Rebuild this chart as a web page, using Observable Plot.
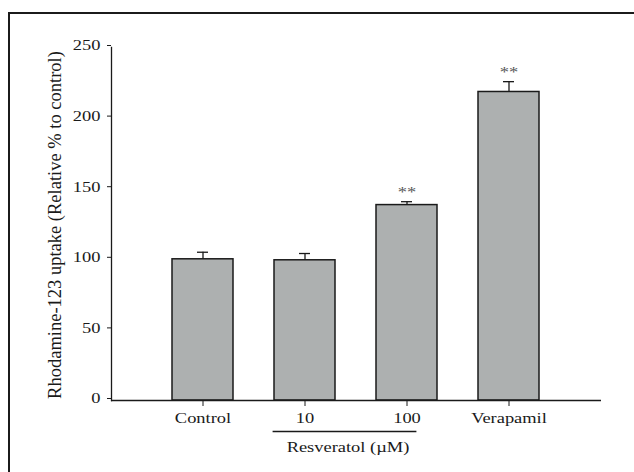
<!DOCTYPE html>
<html><head><meta charset="utf-8">
<script src="https://cdn.jsdelivr.net/npm/d3@7"></script>
<script src="https://cdn.jsdelivr.net/npm/@observablehq/plot@0.6"></script>
<style>
body{margin:0;background:#fff;}
#wrap{position:relative;width:634px;height:472px;overflow:hidden;}
#frame{position:absolute;left:8px;top:12px;width:640px;height:480px;border:2px solid #1b1b1b;box-sizing:border-box;}
#chart{position:absolute;left:0;top:0;}
</style></head><body>
<div id="wrap"><div id="frame"></div><div id="chart"></div></div>
<script>
const groups = ["Control", "10", "100", "Verapamil"];
const means = [100, 99.3, 138.4, 218.5];
const errors = [5.0, 4.8, 2.4, 7.3];
const stars = ["", "", "**", "**"];
const yTicks = [0, 50, 100, 150, 200, 250];
const yLabel = "Rhodamine-123 uptake (Relative % to control)";
const groupLabel = "Resveratol (µM)";
const groupMembers = ["10", "100"];

const data = groups.map((g, i) => ({g, v: means[i], top: means[i] + errors[i], s: stars[i]}));
const ink = "#1a1a1a";

const plot = Plot.plot({
  width: 634, height: 472,
  marginLeft: 111, marginRight: 33, marginTop: 47, marginBottom: 72,
  style: {fontFamily: "'Liberation Serif', 'Times New Roman', serif", fontSize: "15px", color: ink, background: "transparent", overflow: "visible"},
  x: {domain: groups, paddingInner: 0.4, paddingOuter: 0.6, label: null},
  y: {domain: [0, 250], label: null},
  marks: [
    Plot.barY(data, {x: "g", y: "v", fill: "#adb0b0", stroke: ink, strokeWidth: 1.5}),
    Plot.ruleX(data, {x: "g", y1: "v", y2: "top", stroke: ink, strokeWidth: 1.3}),
    Plot.tickY(data, {x: "g", y: "top", insetLeft: 25, insetRight: 25, stroke: ink, strokeWidth: 1.3}),
    Plot.text(data.filter(d => d.s), {x: "g", y: "top", text: "s", dy: -9, fill: "#555", fontSize: 15}),
    Plot.axisY({ticks: yTicks, tickSize: 4, tickPadding: 7, tickFormat: d => String(d), label: null, dy: -2, stroke: ink}),
    Plot.axisX({tickSize: 6, tickPadding: 6, label: null, stroke: ink}),
    Plot.ruleY([0], {stroke: ink, strokeWidth: 1.5}),
    Plot.frame({anchor: "left", stroke: ink, strokeWidth: 1.3}),
    Plot.ruleY([0], {x1: [groupMembers[0]], x2: [groupMembers[1]], dy: 31, stroke: ink, strokeWidth: 1.3, insetLeft: -1.4, insetRight: 20.6}),
    Plot.text([groupLabel], {x: [groupMembers[0]], y: [0], text: d => d, dx: 43, dy: 47, fill: ink, fontSize: 15}),
    Plot.text([yLabel], {frameAnchor: "left", text: d => d, rotate: -90, textAnchor: "middle", lineAnchor: "middle", dx: -56, dy: 1, fill: ink, fontSize: 18.5})
  ]
});

const s = 1.23;
d3.select(plot).selectAll("text").each(function () {
  if (this.textContent === yLabel) return;
  const x = +this.getAttribute("x") || 0, y = +this.getAttribute("y") || 0;
  const t = this.getAttribute("transform") || "";
  this.setAttribute("transform", `${t} translate(${x},${y}) scale(${s},1) translate(${-x},${-y})`);
});
document.getElementById("chart").appendChild(plot);
</script>
</body></html>
